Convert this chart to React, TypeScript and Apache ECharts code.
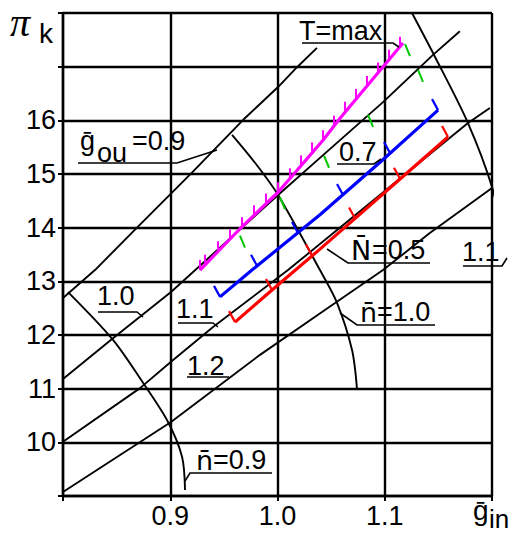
import React, { useEffect, useRef } from "react";
import * as echarts from "echarts";

// Axis ticks that carry a printed label
const xTickLabels = ["0.9", "1.0", "1.1"];
const yTickLabels = ["10", "11", "12", "13", "14", "15", "16"];

// Lines of constant relative outflow ḡ_ou (0.9 ... 1.2)
const gOu09: [number, number][] = [[0.8, 12.69], [0.8298, 13.21], [0.869, 14.0], [0.92, 15.02], [0.968, 16.01], [1.0005, 16.62], [1.0182, 16.99], [1.0368, 17.35]];
const gOu10: [number, number][] = [[0.8, 11.18], [0.8466, 11.94], [0.9007, 12.8], [1.0005, 14.61], [1.0396, 15.3], [1.0984, 16.34], [1.145, 17.22], [1.17, 17.66]];
const gOu11: [number, number][] = [[0.8, 10.01], [0.8718, 11.01], [0.9007, 11.5], [0.9399, 12.15], [1.0098, 13.21], [1.1776, 15.95], [1.198, 16.23]];
const gOu12: [number, number][] = [[0.8, 9.075], [0.9007, 10.38], [0.9837, 11.63], [1.0415, 12.43], [1.0984, 13.21], [1.142, 13.9], [1.2, 14.74]];

// Lines of constant relative speed n̄
const nBar09: [number, number][] = [[0.8047, 12.8], [0.8466, 11.91], [0.8746, 11.11], [0.8979, 10.38], [0.911, 9.73], [0.9138, 9.11]];
const nBar10: [number, number][] = [[0.9576, 15.73], [0.979, 15.21], [1.0005, 14.61], [1.0396, 13.21], [1.0555, 12.6], [1.0695, 11.72], [1.0741, 11.0]];
const nBar11: [number, number][] = [[1.1254, 18], [1.1469, 17.18], [1.1776, 15.95], [1.2, 14.76], [1.2093, 13.9], [1.213, 13.4], [1.2186, 12.84]];

// Operating lines: T = max, N̄ = 0.7, N̄ = 0.5
const tMax: [number, number][] = [[0.9277, 13.21], [0.965, 13.98], [1.0005, 14.66], [1.0424, 15.63], [1.0583, 16.04], [1.117, 17.44]];
const nPow07: [number, number][] = [[0.9464, 12.71], [0.9762, 13.21], [1.0396, 14.24], [1.0956, 15.22], [1.1497, 16.19]];
const nPow05: [number, number][] = [[0.9604, 12.24], [0.9949, 12.84], [1.0396, 13.6], [1.1002, 14.66], [1.159, 15.69]];

// Hatch / step marks along the operating lines
const tMaxMarks: [number, number][] = [[0.9277, 13.21], [0.9324, 13.31], [0.9445, 13.56], [0.9557, 13.78], [0.9669, 14.01], [0.9781, 14.23], [0.9893, 14.45], [1.0004, 14.66], [1.0116, 14.92], [1.0219, 15.16], [1.0322, 15.4], [1.0424, 15.63], [1.0527, 15.9], [1.0629, 16.16], [1.0732, 16.4], [1.0834, 16.64], [1.0937, 16.89], [1.104, 17.13], [1.1142, 17.37]];
const nPow07Marks: [number, number][] = [[0.9464, 12.71], [0.9809, 13.29], [1.0191, 13.9], [1.0611, 14.61], [1.1049, 15.39], [1.1497, 16.19]];
const nPow05Marks: [number, number][] = [[0.9604, 12.24], [0.9949, 12.84], [1.0322, 13.48], [1.0723, 14.17], [1.1142, 14.91], [1.159, 15.69]];
const greenMarks: [number, number][] = [[0.965, 13.85], [1.0023, 14.57], [1.0434, 15.34], [1.0844, 16.1], [1.1189, 17.42], [1.131, 16.94]];

const FONT = "'Liberation Sans', Arial, sans-serif";
const MARK_FONT = "'DejaVu Sans', 'Liberation Sans', sans-serif";
const FS = 27;

function curve(name: string, data: [number, number][], color: string, width: number, smooth: number | boolean = false) {
  return {
    type: "line",
    name,
    data,
    showSymbol: false,
    symbol: "none",
    smooth,
    clip: false,
    silent: true,
    lineStyle: { color, width },
    z: 3,
  };
}

function marks(name: string, data: [number, number][], dx: number, dy: number, color: string, width: number) {
  return {
    type: "custom",
    name,
    data,
    clip: false,
    silent: true,
    z: 5,
    renderItem: (_p: any, api: any) => {
      const c = api.coord([api.value(0), api.value(1)]);
      return {
        type: "line",
        shape: { x1: c[0], y1: c[1], x2: c[0] + dx, y2: c[1] + dy },
        style: { stroke: color, lineWidth: width },
      };
    },
  };
}

function label(text: string, x: number, y: number, size = FS, extra: any = {}) {
  return {
    type: "text",
    x,
    y,
    silent: true,
    z: 20,
    style: { text, fill: "#000", fontSize: size, fontFamily: FONT, align: "left", verticalAlign: "middle", ...extra },
  };
}

function leader(points: number[][]) {
  return {
    type: "polyline",
    silent: true,
    z: 19,
    shape: { points },
    style: { stroke: "#000", lineWidth: 1.6, fill: null },
  };
}

export default function App() {
  const ref = useRef<HTMLDivElement>(null);

  useEffect(() => {
    if (!ref.current) return;
    const chart = echarts.init(ref.current, null, { renderer: "svg" });
    chart.setOption({
      animation: false,
      backgroundColor: "#fff",
      grid: { left: 63, right: 23, top: 13, bottom: 44 },
      xAxis: {
        type: "value",
        min: 0.8,
        max: 1.2,
        interval: 0.1,
        axisLine: { show: true, lineStyle: { color: "#000", width: 2.4 } },
        axisTick: { show: true, length: 5, lineStyle: { color: "#000", width: 2 } },
        splitLine: { show: true, lineStyle: { color: "#000", width: 2.4 } },
        axisLabel: {
          color: "#000",
          fontSize: FS,
          fontFamily: FONT,
          margin: 6,
          formatter: (v: number) => {
            const s = v.toFixed(1);
            return xTickLabels.includes(s) ? s : "";
          },
        },
      },
      yAxis: {
        type: "value",
        min: 9,
        max: 18,
        interval: 1,
        axisLine: { show: true, lineStyle: { color: "#000", width: 2.4 } },
        axisTick: { show: true, length: 5, lineStyle: { color: "#000", width: 2 } },
        splitLine: { show: true, lineStyle: { color: "#000", width: 2.4 } },
        axisLabel: {
          color: "#000",
          fontSize: FS,
          fontFamily: FONT,
          margin: 7,
          formatter: (v: number) => {
            const s = String(Math.round(v));
            return yTickLabels.includes(s) ? s : "";
          },
        },
      },
      series: [
        curve("ḡou=0.9", gOu09, "#000", 1.9),
        curve("ḡou=1.0", gOu10, "#000", 1.9),
        curve("ḡou=1.1", gOu11, "#000", 1.9),
        curve("ḡou=1.2", gOu12, "#000", 1.9),
        curve("n̄=0.9", nBar09, "#000", 1.9, 0.3),
        curve("n̄=1.0", nBar10, "#000", 1.9, 0.3),
        curve("n̄=1.1", nBar11, "#000", 1.9, 0.3),
        marks("green", greenMarks, 5, 12, "#00c800", 2),
        curve("T=max", tMax, "#ff00ff", 3.2),
        marks("T=max hatch", tMaxMarks, 0, -10, "#ff00ff", 2),
        curve("N̄=0.7", nPow07, "#0000ff", 3.2),
        marks("N̄=0.7 marks", nPow07Marks, -6, -11, "#0000ff", 2.2),
        curve("N̄=0.5", nPow05, "#ff0000", 3.2),
        marks("N̄=0.5 marks", nPow05Marks, -6, -11, "#ff0000", 2.2),
      ],
      graphic: [
        // axis titles
        label("π", 10, 22, 40, { fontFamily: "'Liberation Serif', serif", fontStyle: "italic" }),
        label("k", 39, 33.5, 28),
        label("ḡ", 473, 510, 28),
        label("in", 489, 519, 26),
        // ḡ_ou = 0.9
        label("ḡ", 80, 140.5),
        label("ou", 97, 152.5),
        label("=0.9", 132, 140.5),
        leader([[78, 163], [177, 163], [217, 150]]),
        // T = max
        label("T=max", 299, 31),
        leader([[302, 43], [393, 43], [399, 47]]),
        // N̄ = 0.7
        label("0.7", 339, 152),
        leader([[337, 164], [374, 164], [381, 159]]),
        // N̄ = 0.5
        label("N\u0304", 351, 250, FS, { fontFamily: MARK_FONT }),
        label("=0.5", 372, 250),
        leader([[327, 249], [348, 263], [430, 263]]),
        // n̄ = 1.1
        label("1.1", 462, 252),
        leader([[463, 266], [502, 266], [507, 258]]),
        // ḡ_ou = 1.0 / 1.1 / 1.2
        label("1.0", 97, 296),
        leader([[98, 312], [137, 312], [143, 317]]),
        label("1.1", 176, 309),
        leader([[178, 323], [213, 323], [218, 327]]),
        label("1.2", 187, 366),
        leader([[187, 377], [229, 377]]),
        // n̄ = 0.9 and 1.0
        label("n\u0304", 196, 460, FS, { fontFamily: MARK_FONT }),
        label("=0.9", 213, 460),
        leader([[185, 481], [190, 473], [272, 473]]),
        label("n\u0304", 360, 312, FS, { fontFamily: MARK_FONT }),
        label("=1.0", 377, 312),
        leader([[340, 313], [357, 325], [435, 325]]),
      ],
    });
    return () => chart.dispose();
  }, []);

  return <div ref={ref} style={{ position: "absolute", left: 0, top: 0, width: 515, height: 540, background: "#fff" }} />;
}
